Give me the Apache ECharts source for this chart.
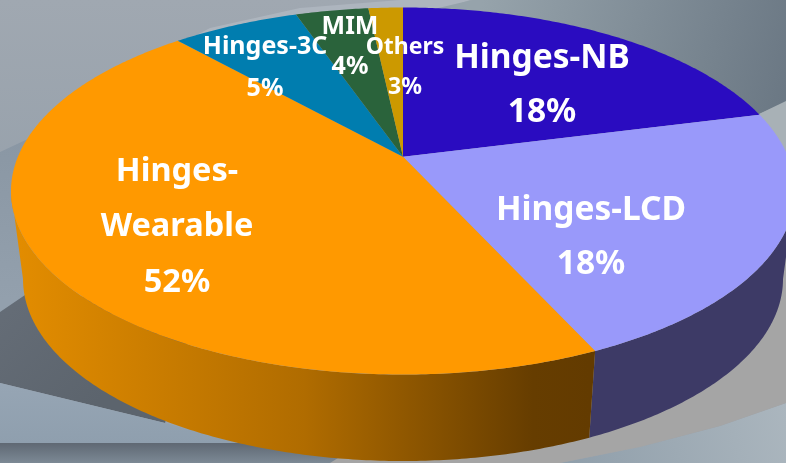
<!DOCTYPE html>
<html>
<head>
<meta charset="utf-8">
<style>html,body{margin:0;padding:0;background:#9aa3ad}#c{width:786px;height:463px}</style>
<script src="https://cdn.jsdelivr.net/npm/echarts@6/dist/echarts.min.js"></script>
</head>
<body>
<div id="c"></div>
<script>
// ---- data ----
var categories = ["Hinges-NB", "Hinges-LCD", "Hinges-\nWearable", "Hinges-3C", "MIM", "Others"];
var percentLabels = [18, 18, 52, 5, 4, 3];            // the percentages printed on the slices
var drawnShares = [21.0, 22.2, 45.2, 6.3, 3.6, 1.7];  // the slice sizes as actually drawn in the picture

// ---- styling ----
var topColors = ["#2A0CC0", "#9999FA", "#FF9900", "#007DAF", "#2A633B", "#CC9900"];
var wallColors = ["#180870", "#3D3A66", null, "#004a68", "#183a22", "#7a5c00"];
var labelLayout = [
  {x: 542, y: 85, size: 33.5, lh: 54},
  {x: 591, y: 237, size: 33.5, lh: 54},
  {x: 177, y: 227, size: 32.5, lh: 55.5},
  {x: 265, y: 67.5, size: 25, lh: 42},
  {x: 350, y: 46.5, size: 25, lh: 40},
  {x: 405, y: 67, size: 23, lh: 40}
];
var top3d = {cx: 403, cy: 191, rx: 392, ry: 183.5};
var base3d = {cx: 403, cy: 279, rx: 380, ry: 182};
var tilt = 0.186;
var FONT = '"Noto Sans", "Open Sans", sans-serif';

function project(theta, e) {
  var u = Math.sin(theta), v = Math.cos(theta);
  var d = 1 + tilt * v;
  var X = Math.sqrt(1 - tilt * tilt) * u / d;
  var Y = (v + tilt) / d;
  return [e.cx + e.rx * X, e.cy - e.ry * Y];
}
function arc(a0, a1, e) {
  var n = Math.max(2, Math.ceil((a1 - a0) / 0.01)), pts = [];
  for (var i = 0; i <= n; i++) pts.push(project(a0 + (a1 - a0) * i / n, e));
  return pts;
}
var total = drawnShares.reduce(function (a, b) { return a + b; }, 0);
// the side wall is only visible between the two silhouette angles of the disc
var wallFrom = Math.acos(-tilt), wallTo = 2 * Math.PI - wallFrom;

function renderSlice(params, api) {
  var i = params.dataIndex;
  var start = 0;
  for (var k = 0; k < i; k++) start += drawnShares[k];
  var a0 = start / total * 2 * Math.PI;
  var a1 = (start + api.value(0)) / total * 2 * Math.PI;
  var topArc = arc(a0, a1, top3d);
  var apexPt = [top3d.cx, top3d.cy - top3d.ry * tilt];
  var wallFill = i === 2
    ? {type: 'linear', x: 20, y: 0, x2: 590, y2: 0, global: true, colorStops: [
        {offset: 0, color: '#E28C00'}, {offset: 0.5, color: '#B06C00'}, {offset: 0.9, color: '#663D00'}, {offset: 1, color: '#633B00'}]}
    : wallColors[i];
  var lay = labelLayout[i];
  var children = [];
  var w0 = Math.max(a0, wallFrom), w1 = Math.min(a1, wallTo);
  if (w1 > w0) {
    children.push({type: 'polygon', z2: 1,
      shape: {points: arc(w0, w1, top3d).concat(arc(w0, w1, base3d).reverse())},
      style: {fill: wallFill}});
  }
  children.push({type: 'polygon', z2: 10, shape: {points: [apexPt].concat(topArc)}, style: {fill: topColors[i]}});
  children.push({type: 'text', z2: 100, x: lay.x, y: lay.y, style: {
    text: categories[i] + '\n' + api.value(1) + '%',
    fill: '#fff', font: '700 ' + lay.size + 'px ' + FONT,
    lineHeight: lay.lh, align: 'center', verticalAlign: 'middle', textAlign: 'center', textVerticalAlign: 'middle'}});
  return {type: 'group', children: children};
}

var chart = echarts.init(document.getElementById('c'), null, {renderer: 'canvas'});
function lin(x, y, x2, y2, a, b) {
  return {type: 'linear', x: x, y: y, x2: x2, y2: y2, global: true,
    colorStops: [{offset: 0, color: a}, {offset: 1, color: b}]};
}
chart.setOption({
  animation: false,
  backgroundColor: '#9aa3ad',
  graphic: {elements: [
    {type: 'polygon', z: 0, silent: true, shape: {points: [[0,0],[786,0],[786,20],[430,10],[250,40],[100,110],[0,170]]}, style: {fill: lin(0,0,0,170,'#a0a8b1','#98a2ac')}},
    {type: 'polygon', z: 0, silent: true, shape: {points: [[120,75],[210,28],[300,8],[400,0],[470,0],[430,14],[300,22]]}, style: {fill: '#adb5be'}},
    {type: 'polygon', z: 0, silent: true, shape: {points: [[0,152],[30,138],[40,300],[0,312]]}, style: {fill: lin(0,140,0,300,'#8a97a4','#93a0ad')}},
    {type: 'polygon', z: 0, silent: true, shape: {points: [[472,0],[786,0],[786,102],[757,115],[600,50],[430,10]]}, style: {fill: lin(480,10,786,90,'#96a3ab','#6b7884')}},
    {type: 'polygon', z: 0, silent: true, shape: {points: [[757,115],[786,101],[786,240],[760,240]]}, style: {fill: '#a8b1b6'}},
    {type: 'polygon', z: 0, silent: true, shape: {points: [[25,295],[0,312],[0,383],[165,423],[200,300]]}, style: {fill: lin(0,300,100,400,'#656d77','#5c646d')}},
    {type: 'polygon', z: 0, silent: true, shape: {points: [[0,383],[165,423],[240,443],[0,443]]}, style: {fill: lin(0,385,0,443,'#96a5b4','#8f9fae')}},
    {type: 'polygon', z: 0, silent: true, shape: {points: [[0,443],[340,443],[340,463],[0,463]]}, style: {fill: lin(0,443,0,463,'#5f6873','#7c8995')}},
    {type: 'polygon', z: 0, silent: true, shape: {points: [[786,403],[720,426],[640,447],[560,463],[786,463]]}, style: {fill: lin(560,463,786,403,'#8f9eaa','#abb6be')}},
    {type: 'polygon', z: 0, silent: true, shape: {points: [[786,230],[786,403],[720,426],[640,447],[560,463],[330,463],[590,300]]}, style: {fill: '#a5a5a5'}}
  ]},
  series: [{
    type: 'custom',
    coordinateSystem: 'none',
    renderItem: renderSlice,
    data: drawnShares.map(function (s, i) { return [s, percentLabels[i]]; })
  }]
});
</script>
</body>
</html>
